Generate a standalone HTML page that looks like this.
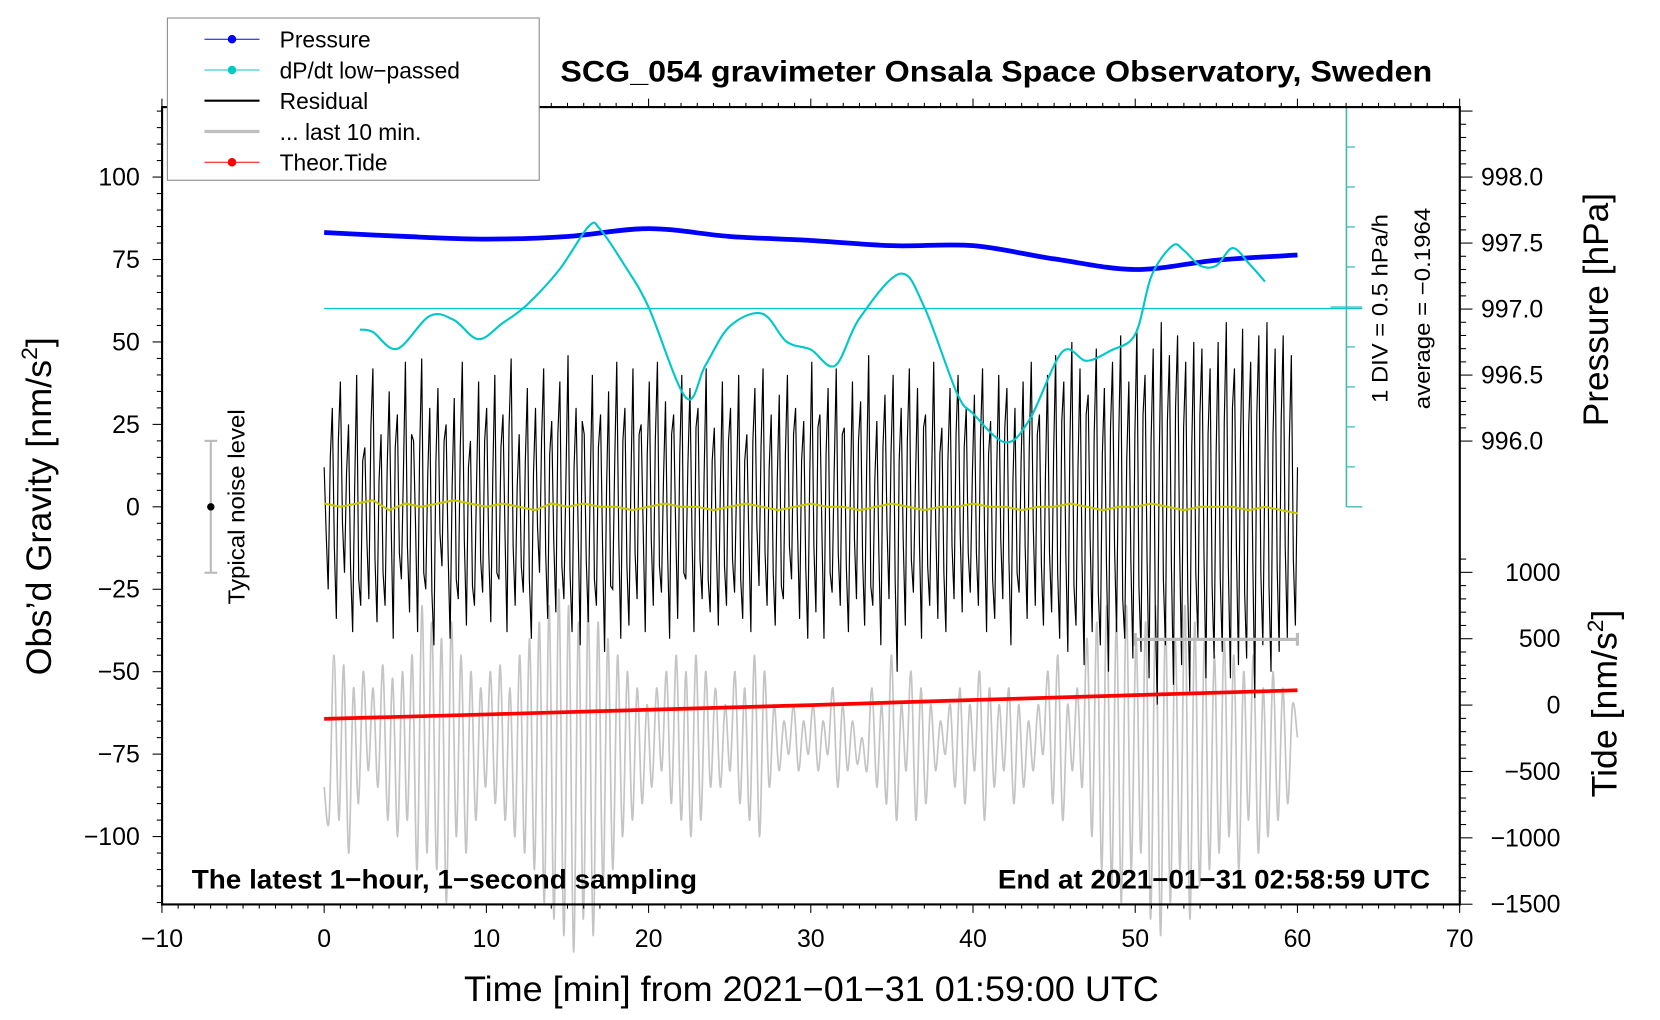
<!DOCTYPE html>
<html><head><meta charset="utf-8">
<style>
html,body{margin:0;padding:0;background:#fff;}
svg{display:block;font-family:"Liberation Sans",Arial,sans-serif;}
</style></head>
<body>
<svg id="chart" width="1660" height="1020" viewBox="0 0 1567 962" preserveAspectRatio="none" xmlns="http://www.w3.org/2000/svg">
<rect x="0" y="0" width="1567" height="962" fill="#fff"/>
<g id="layer-gray"></g>
<g id="layer-black"></g>
<g id="layer-main"></g>
</svg>
<script>
// ---- data ----
const pressureTimes = [0,5,10,15,20,25,30,35,40,45,50,55,60];
const pressureVals = [997.58,997.55,997.53,997.55,997.61,997.55,997.52,997.48,997.48,997.38,997.30,997.37,997.41];
const dpdtTimes = [2.2,3,4.5,6.5,8,9.5,11,12.5,14.5,16.3,17,18.5,20,22.3,23.5,25,27,28.5,30,31.5,33,35.5,37,39,40,42,43.5,45.5,47,48.5,50,51,52.3,53,54,55,56,57,58];
const dpdtVals = [-0.46,-0.49,-0.70,-0.29,-0.34,-0.58,-0.38,-0.15,0.29,0.83,0.80,0.35,-0.18,-1.31,-0.91,-0.42,-0.26,-0.61,-0.71,-0.91,-0.32,0.24,-0.18,-1.25,-1.51,-1.87,-1.58,-0.74,-0.85,-0.72,-0.52,0.21,0.59,0.53,0.34,0.34,0.56,0.37,0.14];
const dpdtAverage = -0.1964;
const residualA = [
12,-25,30,-34,38,-20,25,-38,40,-30,18,-28,42,-35,22,-30,35,-40,28,-22,
44,-32,20,-38,45,-25,30,-42,36,-18,25,-40,33,-28,44,-36,20,-30,38,-26,
30,-35,40,-22,28,-38,45,-30,22,-26,36,-40,30,-20,42,-34,26,-32,38,-28,
46,-38,30,-42,22,-35,40,-30,28,-44,35,-25,44,-40,30,-36,42,-28,25,-38,
38,-30,44,-26,32,-40,28,-34,40,-22,36,-38,30,-28,42,-32,24,-36,38,-30,
30,-26,40,-34,22,-38,36,-24,42,-30,28,-36,34,-28,40,-22,30,-34,26,-40,
44,-32,28,-40,36,-26,42,-30,24,-38,38,-28,32,-36,46,-30,26,-42,34,-28,
40,-50,30,-36,42,-26,36,-40,28,-30,44,-34,24,-38,36,-28,40,-32,30,-26,
34,-30,42,-38,26,-34,40,-28,36,-42,30,-26,38,-34,44,-30,28,-36,40,-32,
46,-40,38,-44,50,-36,42,-48,34,-38,48,-42,36,-50,44,-38,52,-40,38,-46,
54,-44,40,-52,48,-60,56,-42,46,-54,52,-48,44,-56,50,-40,48,-52,42,-46,
50,-44,56,-52,42,-48,54,-46,44,-58,52,-42,56,-50,48,-44,52,-40,46,-36];
const residualB = [
-8,15,-12,20,-5,10,-18,6,-22,14,-10,24,-16,8,-20,12,-6,18,-14,10,
-12,22,-6,16,-20,10,-26,14,-8,20,-14,6,-22,18,-10,12,-24,8,-16,20,
-14,10,-20,18,-8,24,-12,6,-18,14,-22,10,-6,20,-14,16,-10,22,-18,8,
-20,12,-8,26,-16,10,-22,18,-12,6,-24,14,-10,20,-18,8,-14,22,-6,16,
-10,20,-18,8,-14,22,-6,16,-20,12,-8,24,-16,10,-22,14,-12,6,-18,20,
-16,8,-22,14,-10,20,-6,18,-14,12,-20,8,-24,16,-12,22,-8,14,-18,10,
-12,24,-8,16,-20,10,-14,22,-18,6,-10,20,-16,12,-24,8,-14,18,-6,16,
-22,14,-10,20,-16,8,-12,24,-18,10,-6,16,-20,14,-12,22,-8,18,-14,10,
-14,20,-8,16,-22,12,-10,24,-16,8,-20,14,-12,18,-6,22,-18,10,-14,16,
-20,26,-14,18,-24,12,-16,28,-10,22,-26,16,-18,24,-12,20,-28,14,-16,22,
-24,28,-16,20,-30,14,-22,26,-18,30,-12,24,-26,18,-20,28,-14,22,-24,16,
-22,26,-18,30,-14,20,-26,24,-16,28,-20,14,-24,22,-18,26,-12,20,-16,12];
const grayVals = [
-85,-95,-45,-95,-48,-105,-55,-90,-50,-80,-55,-85,-48,-95,-52,-100,-50,-95,-45,-110,
-30,-105,-35,-110,-40,-120,-35,-100,-45,-105,-50,-95,-55,-85,-50,-90,-48,-95,-55,-100,
-45,-105,-40,-110,-35,-120,-30,-125,-25,-130,-30,-135,-35,-125,-30,-130,-35,-115,-40,-110,
-45,-100,-50,-95,-55,-90,-60,-85,-55,-80,-50,-90,-45,-95,-50,-100,-45,-95,-50,-85,
-55,-85,-60,-80,-50,-90,-55,-95,-45,-100,-50,-85,-60,-80,-65,-75,-60,-80,-65,-75,
-60,-80,-65,-75,-55,-85,-60,-80,-65,-78,-70,-80,-55,-85,-60,-90,-45,-95,-60,-80,
-50,-95,-55,-90,-60,-80,-65,-75,-60,-85,-55,-90,-60,-80,-50,-95,-55,-85,-60,-80,
-55,-90,-60,-85,-65,-80,-60,-75,-50,-90,-45,-95,-60,-80,-55,-85,-40,-100,-35,-110,
-30,-115,-35,-120,-30,-110,-40,-105,-35,-125,-30,-130,-35,-120,-40,-110,-30,-125,-35,-115,
-40,-110,-45,-105,-40,-100,-45,-110,-50,-95,-45,-105,-55,-100,-50,-95,-55,-90,-60,-70];
const yellowVals = [1,0,1,2,-1,1,0,1,2,1,0,1,0,-1,1,0,1,0,0,-1,0,1,0,0,-1,0,1,0,-1,0,1,0,0,-1,0,1,0,-1,0,0,1,0,0,-1,0,0,1,0,-1,0,0,1,0,-1,0,0,0,-1,0,-1,-2];
const tideTimes = [0,10,20,30,40,50,60];
const tideVals = [-104,-70,-35,0,38,75,112];
const xTicks = [-10,0,10,20,30,40,50,60,70];
const gravTicks = [100,75,50,25,0,-25,-50,-75,-100];
const pressTicks = [998.0,997.5,997.0,996.5,996.0];
const tideTicks = [1000,500,0,-500,-1000,-1500];

// ---- axes ----
const L=153,R=1378,T=101,B=853;
const sx = t => 306 + t*15.3125;
const sy = g => 478 - g*3.11;
const sp = p => 167 + (998-p)*124.5;
const st = v => 665 - v*0.1252;
const sd = d => 291 - (d-dpdtAverage)*75.4;

const NS='http://www.w3.org/2000/svg';
function mk(tag, parent, attrs, text){
  const e=document.createElementNS(NS,tag);
  for(const k in attrs) e.setAttribute(k,attrs[k]);
  if(text!==undefined) e.textContent=text;
  parent.appendChild(e); return e;
}
function smoothPath(P){
  let d='M'+P[0][0].toFixed(1)+','+P[0][1].toFixed(1);
  for(let i=0;i<P.length-1;i++){
    const p0=P[Math.max(0,i-1)],p1=P[i],p2=P[i+1],p3=P[Math.min(P.length-1,i+2)];
    const c1=[p1[0]+(p2[0]-p0[0])/6,p1[1]+(p2[1]-p0[1])/6];
    const c2=[p2[0]-(p3[0]-p1[0])/6,p2[1]-(p3[1]-p1[1])/6];
    d+=' C'+c1[0].toFixed(1)+','+c1[1].toFixed(1)+' '+c2[0].toFixed(1)+','+c2[1].toFixed(1)+' '+p2[0].toFixed(1)+','+p2[1].toFixed(1);
  }
  return d;
}
const gGray=document.getElementById('layer-gray');
const gBlack=document.getElementById('layer-black');
const gMain=document.getElementById('layer-main');

// gray last 10 min
let P=grayVals.map((v,i)=>[sx(i*60/(grayVals.length-1)),sy(v)]);
let e=mk('path',gGray,{d:smoothPath(P),fill:'none',stroke:'#c4c4c4','stroke-width':1.6});



// residual (interleave A and B)
const residual=[];
residualA.forEach((v,i)=>{residual.push(v);residual.push(residualB[i]);});
let pts=residual.map((v,i)=>sx(i*60/(residual.length-1)).toFixed(1)+','+sy(v).toFixed(1)).join(' ');
e=mk('polyline',gBlack,{points:pts,fill:'none',stroke:'#000','stroke-width':1.1});



// yellow
pts=yellowVals.map((v,i)=>sx(i).toFixed(1)+','+sy(v).toFixed(1)).join(' ');
e=mk('polyline',gBlack,{points:pts,fill:'none',stroke:'#c8c800','stroke-width':2});



// tide
pts=tideTimes.map((t,i)=>sx(t).toFixed(1)+','+st(tideVals[i]).toFixed(1)).join(' ');
e=mk('polyline',gMain,{points:pts,fill:'none',stroke:'#f00','stroke-width':3.5});



// pressure
P=pressureTimes.map((t,i)=>[sx(t),sp(pressureVals[i])]);
e=mk('path',gMain,{d:smoothPath(P),fill:'none',stroke:'#0000ff','stroke-width':4.5});



// dpdt average line
e=mk('line',gMain,{x1:sx(0),x2:1286,y1:sd(dpdtAverage),y2:sd(dpdtAverage),stroke:'#00c8c8','stroke-width':1.2});


// dpdt
P=dpdtTimes.map((t,i)=>[sx(t),sd(dpdtVals[i])]);
e=mk('path',gMain,{d:smoothPath(P),fill:'none',stroke:'#00c8c8','stroke-width':2});



// cyan scale bar
e=mk('line',gMain,{x1:1271,x2:1271,y1:T,y2:478,stroke:'#40b8b8','stroke-width':1.5});


for(let k=0;k<=10;k++){
  const y=T+k*37.7, w=(k===0||k===10||k===5)?15:8;
  mk('line',gMain,{x1:k===5?1256:1271,x2:1271+w,y1:y,y2:y,stroke:'#40b8b8','stroke-width':1.2});
}

// frame
e=mk('rect',gMain,{x:L,y:T,width:R-L,height:B-T,fill:'none',stroke:'#000','stroke-width':2});



// x ticks
for(let t=-10;t<=70;t++){
  const big=t%10===0;
  mk('line',gMain,{x1:sx(t),x2:sx(t),y1:B,y2:B+(big?8:4),stroke:'#000','stroke-width':1});
  mk('line',gMain,{x1:sx(t),x2:sx(t),y1:T,y2:T-(big?8:4),stroke:'#000','stroke-width':1});
}
xTicks.forEach(t=>{
  e=mk('text',gMain,{x:sx(t),y:893,'font-size':23.5,'text-anchor':'middle'},String(t).replace('-','\u2212'));
  
  
});
// left ticks
for(let g=-120;g<=120;g+=5){
  const big=g%25===0;
  mk('line',gMain,{x1:L,x2:L-(big?9:5),y1:sy(g),y2:sy(g),stroke:'#000','stroke-width':1});
}
gravTicks.forEach(g=>{
  e=mk('text',gMain,{x:132,y:sy(g)+8,'font-size':23.5,'text-anchor':'end'},String(g).replace('-','\u2212'));
  
  
});
// pressure ticks
for(let k=0;k<=25;k++){
  const p=998.5-k*0.1, y=sp(p); if(y<T||y>478) continue;
  const big=Math.abs(Math.round(p*2)-p*2)<1e-6;
  mk('line',gMain,{x1:R,x2:R+(big?12:6),y1:y,y2:y,stroke:'#000','stroke-width':1});
}
pressTicks.forEach(p=>{
  e=mk('text',gMain,{x:1398,y:sp(p)+8,'font-size':23.5},p.toFixed(1));
  
  
});
// tide ticks
for(let v=-1500;v<=1100;v+=100){
  const y=st(v); if(y<478||y>B) continue;
  const big=v%500===0;
  mk('line',gMain,{x1:R,x2:R+(big?12:6),y1:y,y2:y,stroke:'#000','stroke-width':1});
}
tideTicks.forEach(v=>{
  e=mk('text',gMain,{x:1473,y:st(v)+8,'font-size':23.5,'text-anchor':'end'},String(v).replace('-','\u2212'));
  
  
});

// noise bar
const nb=mk('g',gMain,{});


mk('line',nb,{x1:199,x2:199,y1:sy(20),y2:sy(-20),stroke:'#bbb','stroke-width':2});
mk('line',nb,{x1:193,x2:205,y1:sy(20),y2:sy(20),stroke:'#bbb','stroke-width':2});
mk('line',nb,{x1:193,x2:205,y1:sy(-20),y2:sy(-20),stroke:'#bbb','stroke-width':2});
mk('circle',nb,{cx:199,cy:sy(0),r:3.5,fill:'#000'});
// 10-min bar
const tb=mk('g',gMain,{});


mk('line',tb,{x1:sx(50),x2:sx(60),y1:603,y2:603,stroke:'#bbb','stroke-width':3});
mk('line',tb,{x1:sx(50),x2:sx(50),y1:597,y2:609,stroke:'#bbb','stroke-width':3});
mk('line',tb,{x1:sx(60),x2:sx(60),y1:597,y2:609,stroke:'#bbb','stroke-width':3});
</script>
<svg style="position:absolute;left:0;top:0" width="1660" height="1020" viewBox="0 0 1567 962" preserveAspectRatio="none" xmlns="http://www.w3.org/2000/svg" font-family="Liberation Sans, Arial, sans-serif">
<text x="529" y="77" font-size="28" font-weight="bold" textLength="823" lengthAdjust="spacingAndGlyphs">SCG_054 gravimeter Onsala Space Observatory, Sweden</text>
<text x="181" y="838" font-size="25" font-weight="bold" textLength="477" lengthAdjust="spacingAndGlyphs">The latest 1−hour, 1−second sampling</text>
<text x="942" y="838" font-size="25" font-weight="bold" textLength="408" lengthAdjust="spacingAndGlyphs">End at 2021−01−31 02:58:59 UTC</text>
<text x="438" y="944" font-size="33" textLength="656" lengthAdjust="spacingAndGlyphs">Time [min] from 2021−01−31 01:59:00 UTC</text>
<text transform="translate(48,637) rotate(-90)" font-size="33" textLength="319" lengthAdjust="spacingAndGlyphs">Obs’d Gravity [nm/s<tspan font-size="21" dy="-13">2</tspan><tspan dy="13">]</tspan></text>
<text transform="translate(1518,402) rotate(-90)" font-size="33" textLength="220" lengthAdjust="spacingAndGlyphs">Pressure [hPa]</text>
<text transform="translate(1526,752) rotate(-90)" font-size="33" textLength="177" lengthAdjust="spacingAndGlyphs">Tide [nm/s<tspan font-size="21" dy="-13">2</tspan><tspan dy="13">]</tspan></text>
<text transform="translate(231,570) rotate(-90)" font-size="22" textLength="184" lengthAdjust="spacingAndGlyphs">Typical noise level</text>
<text transform="translate(1310,380) rotate(-90)" font-size="21" textLength="178" lengthAdjust="spacingAndGlyphs">1 DIV = 0.5 hPa/h</text>
<text transform="translate(1350,386) rotate(-90)" font-size="21" textLength="190" lengthAdjust="spacingAndGlyphs">average = −0.1964</text>
<g>
<rect x="158" y="17" width="351" height="153" fill="#fff" stroke="#888" stroke-width="1"/>
<line x1="193" x2="245" y1="37" y2="37" stroke="#00f" stroke-width="1"/><circle cx="219" cy="37" r="4" fill="#00f"/>
<text x="264" y="45" font-size="21.5">Pressure</text>
<line x1="193" x2="245" y1="66" y2="66" stroke="#00c8c8" stroke-width="1"/><circle cx="219" cy="66" r="4" fill="#00c8c8"/>
<text x="264" y="74" font-size="21.5">dP/dt low−passed</text>
<line x1="193" x2="245" y1="95" y2="95" stroke="#000" stroke-width="2"/>
<text x="264" y="103" font-size="21.5">Residual</text>
<line x1="193" x2="245" y1="124" y2="124" stroke="#c0c0c0" stroke-width="3"/>
<text x="264" y="132" font-size="21.5">... last 10 min.</text>
<line x1="193" x2="245" y1="153" y2="153" stroke="#f00" stroke-width="1"/><circle cx="219" cy="153" r="4" fill="#f00"/>
<text x="264" y="161" font-size="21.5">Theor.Tide</text>
</g>
</svg>
</body></html>
